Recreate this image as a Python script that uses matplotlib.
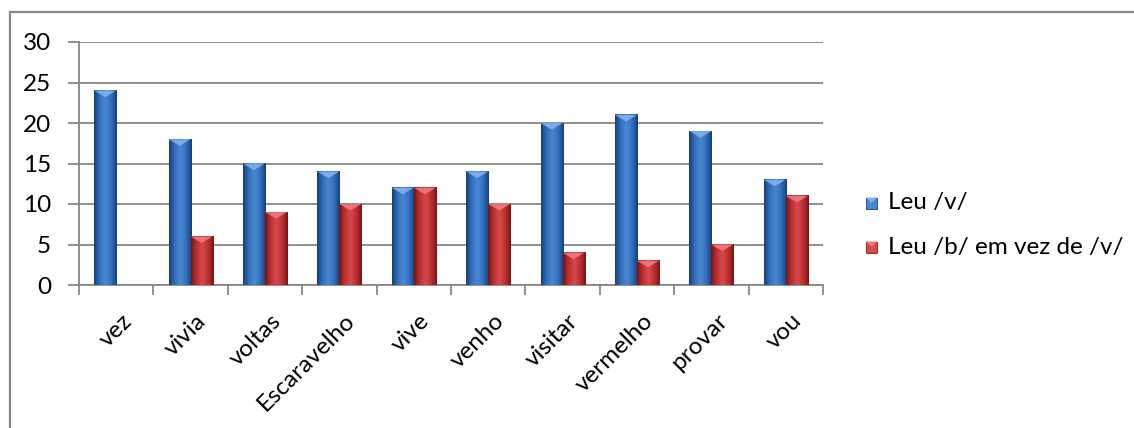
import numpy as np
import matplotlib
matplotlib.use("Agg")
import matplotlib.pyplot as plt
from matplotlib.patches import Rectangle, Polygon
from matplotlib.lines import Line2D
from matplotlib.colors import LinearSegmentedColormap
from matplotlib.transforms import ScaledTranslation

plt.rcParams['font.family'] = ['Lato', 'DejaVu Sans']

categories = ['vez', 'vivia', 'voltas', 'Escaravelho', 'vive', 'venho',
              'visitar', 'vermelho', 'provar', 'vou']
leu_v = [24, 18, 15, 14, 12, 14, 20, 21, 19, 13]
leu_b = [0, 6, 9, 10, 12, 10, 4, 3, 5, 11]
series_names = ['Leu /v/', 'Leu /b/ em vez de /v/']
yticks = [0, 5, 10, 15, 20, 25, 30]

W, H = 1134, 428
FS = 17.5
fig = plt.figure(figsize=(W / 100, H / 100), dpi=100)
ax = fig.add_axes([79 / W, 1 - 285 / H, (823 - 79) / W, (285 - 42) / H])

grid_c = '#878787'
blue_cmap = LinearSegmentedColormap.from_list(
    'b', ['#17407a', '#3470bd', '#4b88d3', '#3470bd', '#17407a'])
red_cmap = LinearSegmentedColormap.from_list(
    'r', ['#7d1414', '#bb3232', '#d9494b', '#bb3232', '#7d1414'])
grad = np.linspace(0, 1, 64).reshape(1, -1)

bw = 0.296


def draw_bar(x0, h, cmap, top_c):
    if h <= 0:
        return
    ax.imshow(grad, cmap=cmap, extent=(x0, x0 + bw, 0, h),
              aspect='auto', origin='lower', zorder=3, interpolation='bilinear')
    ax.add_patch(Rectangle((x0, 0), bw, h, fill=False, ec=cmap(0.0),
                           lw=0.6, zorder=4))
    ax.add_patch(Polygon([(x0, h), (x0 + bw, h), (x0 + bw / 2, h - 0.8)],
                         closed=True, fc=top_c, ec='none', alpha=0.9, zorder=5))


x = np.arange(len(categories))
for i in range(len(categories)):
    draw_bar(x[i] - bw, leu_v[i], blue_cmap, '#7fb3ee')
    draw_bar(x[i], leu_b[i], red_cmap, '#f07a7a')

ax.set_xlim(-0.5, len(categories) - 0.5)
ax.set_ylim(0, 30)
ax.set_yticks(yticks)
ax.set_yticklabels([str(v) for v in yticks], fontsize=FS)
ax.yaxis.grid(True, color=grid_c, lw=1.3, zorder=0)
ax.set_axisbelow(True)

ax.set_xticks(x)
ax.set_xticklabels(categories, rotation=45, ha='right', va='top',
                   rotation_mode='anchor', fontsize=FS)
ax.tick_params(axis='x', length=0, pad=18)
shift = ScaledTranslation(5 / 100, 0, fig.dpi_scale_trans)
for lbl in ax.get_xticklabels():
    lbl.set_transform(lbl.get_transform() + shift)
ax.set_xticks(np.arange(-0.5, len(categories)), minor=True)
ax.tick_params(axis='x', which='minor', length=7, color=grid_c, width=1.3)
ax.tick_params(axis='y', length=8, color=grid_c, width=1.3, pad=12)

for s in ['top', 'right']:
    ax.spines[s].set_visible(False)
for s in ['left', 'bottom']:
    ax.spines[s].set_color(grid_c)
    ax.spines[s].set_linewidth(1.3)

# outer chart frame
fig.add_artist(Line2D([10 / W, 1.0], [1 - 12 / H, 1 - 12 / H],
                      transform=fig.transFigure, color=grid_c, lw=1.6))
fig.add_artist(Line2D([10 / W, 10 / W], [0, 1 - 12 / H],
                      transform=fig.transFigure, color=grid_c, lw=1.6))

# legend
for j, (name, cmap, top_c) in enumerate([(series_names[0], blue_cmap, '#7fb3ee'),
                                           (series_names[1], red_cmap, '#f07a7a')]):
    yc = 203 + 44 * j
    fig.patches.append(Rectangle((866 / W, 1 - (yc + 5.5) / H), 11 / W, 11 / H,
                                 transform=fig.transFigure, fc=cmap(0.5),
                                 ec=cmap(0.0), lw=0.6))
    fig.patches.append(Polygon([(866 / W, 1 - (yc - 5.5) / H), (877 / W, 1 - (yc - 5.5) / H),
                                (871.5 / W, 1 - yc / H)], closed=True,
                               transform=fig.transFigure, fc=top_c, ec='none'))
    fig.text(888 / W, 1 - yc / H, name, fontsize=FS, va='center', ha='left')

fig.savefig('out.png', dpi=100)
